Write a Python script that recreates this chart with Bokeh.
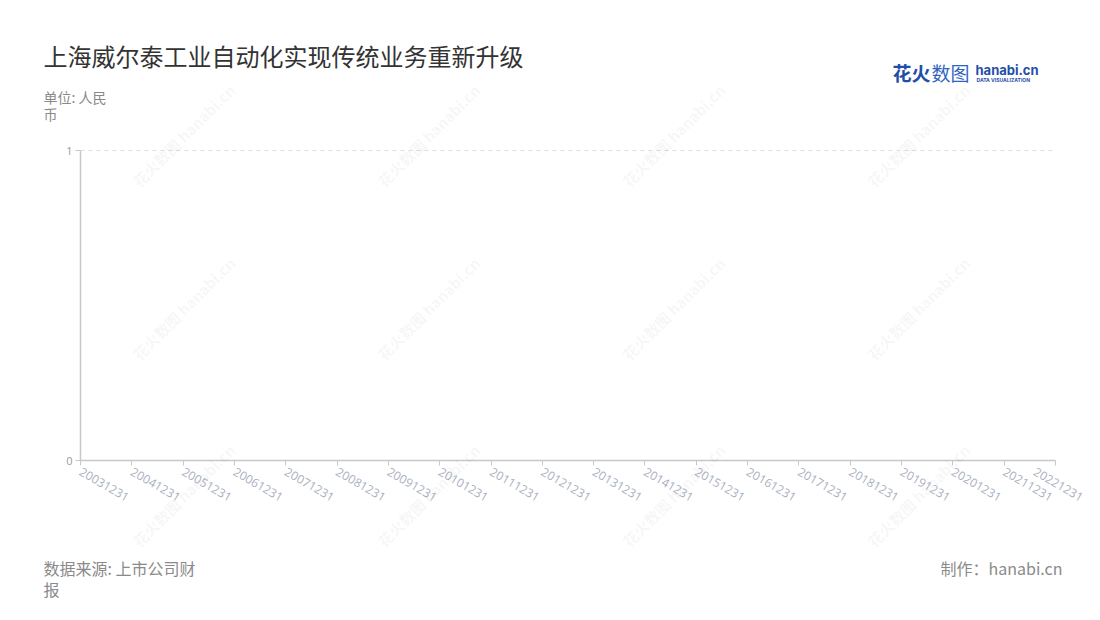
import math
from bokeh.plotting import figure
from bokeh.models import Range1d, FixedTicker, Label, ColumnDataSource
from bokeh.embed import file_html
from bokeh.resources import INLINE

# ---- data ----
categories = ["20031231", "20041231", "20051231", "20061231", "20071231",
              "20081231", "20091231", "20101231", "20111231", "20121231",
              "20131231", "20141231", "20151231", "20161231", "20171231",
              "20181231", "20191231", "20201231", "20211231", "20221231"]
values = []          # the reference chart contains no plotted values
y_ticks = [0, 1]

title_text = "上海威尔泰工业自动化实现传统业务重新升级"
unit_lines = ["单位: 人民", "币"]
source_lines = ["数据来源: 上市公司财", "报"]
credit_text = "制作：hanabi.cn"

W, H = 1084, 604
AX_L, AX_T, AX_R, AX_B = 80, 150, 1055, 460   # plotting area in canvas pixels
CJK = "Noto Sans CJK SC"

n = len(categories)
x_lo, x_hi = 0, n - 1
y_lo, y_hi = min(y_ticks), max(y_ticks)
sx = (AX_R - AX_L) / (x_hi - x_lo)      # px per category
sy = (AX_B - AX_T) / (y_hi - y_lo)      # px per y unit

# the frame fills the whole canvas; axes are pinned at the data origin
p = figure(width=W, height=H, output_backend="svg", toolbar_location=None,
           x_range=Range1d(x_lo - AX_L / sx, x_hi + (W - AX_R) / sx),
           y_range=Range1d(y_lo - (H - AX_B) / sy, y_hi + AX_T / sy),
           min_border=0, min_border_left=0, min_border_right=0,
           min_border_top=0, min_border_bottom=0)
p.outline_line_color = None
p.background_fill_color = "white"
p.border_fill_color = "white"

# grid line at the top tick (dashed)
p.segment(x0=[x_lo], y0=[y_hi], x1=[x_hi], y1=[y_hi],
          line_color="#dddddd", line_dash="4 4", line_width=1)

src = ColumnDataSource(dict(x=list(range(len(values))), y=values))
p.line("x", "y", source=src, line_color="#5470c6", line_width=2)

# x axis
xa = p.xaxis[0]
xa.fixed_location = y_lo
xa.bounds = (x_lo, x_hi)
xa.ticker = FixedTicker(ticks=list(range(n)))
xa.major_label_overrides = {i: c for i, c in enumerate(categories)}
xa.major_label_orientation = -math.radians(30)
xa.axis_line_color = "#c8c8c8"
xa.axis_line_width = 1.5
xa.major_tick_line_color = "#c8c8c8"
xa.major_tick_in = 0
xa.major_tick_out = 5
xa.minor_tick_line_color = None
xa.major_label_text_color = "#aab0bf"
xa.major_label_text_font = "Open Sans"
xa.major_label_text_font_size = "12px"
xa.major_label_standoff = 5

# y axis
ya = p.yaxis[0]
ya.fixed_location = x_lo
ya.bounds = (y_lo, y_hi)
ya.ticker = FixedTicker(ticks=y_ticks)
ya.axis_line_color = "#c8c8c8"
ya.axis_line_width = 1.5
ya.major_tick_line_color = "#c8c8c8"
ya.major_tick_in = 0
ya.major_tick_out = 5
ya.minor_tick_line_color = None
ya.major_label_text_color = "#999999"
ya.major_label_text_font = "Open Sans"
ya.major_label_text_font_size = "11px"
ya.major_label_standoff = 3

p.xgrid.grid_line_color = None
p.ygrid.grid_line_color = None

# helper: canvas coords (origin top-left) -> screen units (frame = canvas)
def lab(x, y, text, size, color, align="left", font=CJK, style="normal",
        angle=0.0, alpha=1.0, baseline="middle"):
    p.add_layout(Label(x=x, y=H - y, x_units="screen", y_units="screen",
                       text=text, text_font=font, text_font_size=size,
                       text_color=color, text_align=align,
                       text_baseline=baseline, text_font_style=style,
                       angle=angle, text_alpha=alpha))

# watermarks
for cy in [135, 308, 495]:
    for cx in [183, 428, 673, 918]:
        lab(cx, cy, "花火数图 hanabi.cn", "15px", "#000000", align="center",
            style="bold", angle=math.radians(45), alpha=0.055)

lab(43, 55, title_text, "24px", "#333333")
lab(43, 96, unit_lines[0], "14px", "#8a8a8a")
lab(43, 113, unit_lines[1], "14px", "#8a8a8a")
lab(43, 567, source_lines[0], "16px", "#8a8a8a")
lab(43, 588, source_lines[1], "16px", "#8a8a8a")
lab(1062, 567, credit_text, "16px", "#8a8a8a", align="right")

# logo
lab(892, 72, "花火", "19px", "#1f4fa8", style="bold")
lab(931, 72, "数图", "19px", "#2f64c0")
lab(975, 69, "hanabi.cn", "13px", "#1f4fa8", font="Inter", style="bold")
lab(976, 79, "DATA VISUALIZATION", "5px", "#1f4fa8", font="Inter", style="bold")

open("out.html", "w").write(file_html(p, INLINE))
